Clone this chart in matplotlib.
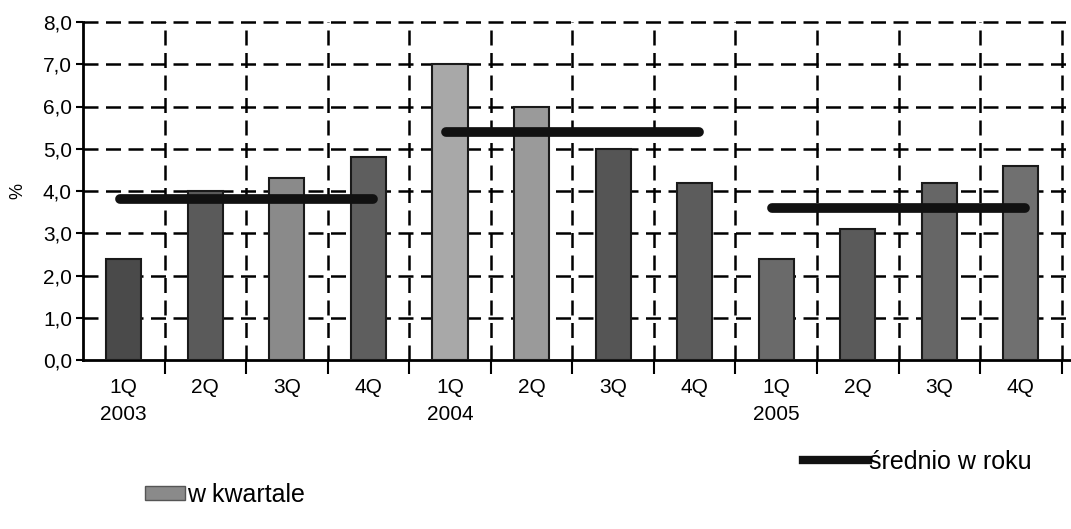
import numpy as np
import matplotlib.pyplot as plt
from matplotlib.patches import Patch
from matplotlib.lines import Line2D

plt.rcParams['font.family'] = ['Liberation Sans', 'DejaVu Sans']

quarters = ['1Q\n2003', '2Q', '3Q', '4Q', '1Q\n2004', '2Q', '3Q', '4Q', '1Q\n2005', '2Q', '3Q', '4Q']
quarterly = [2.4, 4.0, 4.3, 4.8, 7.0, 6.0, 5.0, 4.2, 2.4, 3.1, 4.2, 4.6]
years = [2003, 2004, 2005]
yearly_avg = [3.8, 5.4, 3.6]

bar_colors = ['#4a4a4a', '#5a5a5a', '#8a8a8a', '#5e5e5e', '#a8a8a8', '#9a9a9a',
              '#555555', '#5c5c5c', '#6a6a6a', '#5a5a5a', '#666666', '#707070']

fig = plt.figure(figsize=(10.71, 5.29), dpi=100)
ax = fig.add_axes([83 / 1071, 169 / 529, 995 / 1071, 338 / 529])

x = np.arange(len(quarters))
ax.bar(x, quarterly, width=0.43, color=bar_colors, edgecolor='#1a1a1a', linewidth=1.5, zorder=3)

# yearly average drawn from first to last quarter of each year
for i, avg in enumerate(yearly_avg):
    ax.plot([4 * i - 0.05, 4 * i + 3.05], [avg, avg], color='#111111', lw=7,
            solid_capstyle='round', zorder=4)

ax.set_xlim(-0.5, 11.7)
ax.set_ylim(0, 8)

dash = (0, (6, 3))
ax.set_yticks(np.arange(0, 9, 1))
ax.set_yticklabels([f'{v:.1f}'.replace('.', ',') for v in np.arange(0, 9, 1)])
ax.set_xticks(x)
ax.set_xticklabels(quarters, linespacing=1.5)
ax.set_xticks(np.arange(0.5, 12, 1), minor=True)

ax.tick_params(axis='x', which='major', length=0, pad=13, labelsize=15)
ax.tick_params(axis='x', which='minor', length=10, width=1.5, direction='out')
ax.tick_params(axis='y', length=5, width=1.5, labelsize=15, pad=3)

for v in range(1, 9):
    ax.axhline(v, color='black', lw=1.8, linestyle=dash, zorder=1, clip_on=False)
for b in np.arange(0.5, 12, 1):
    ax.axvline(b, color='black', lw=1.8, linestyle=dash, zorder=1)

for s in ['top', 'right']:
    ax.spines[s].set_visible(False)
ax.spines['left'].set_linewidth(2)
ax.spines['bottom'].set_linewidth(2)

ax.set_ylabel('%', fontsize=13, labelpad=12)

fig.legend(handles=[Patch(facecolor='#8a8a8a', edgecolor='#555555', label='w kwartale')],
           loc='center left', bbox_to_anchor=(122 / 1071, 1 - 495 / 529), frameon=False,
           fontsize=18, handlelength=1.6, handleheight=0.5, handletextpad=0.1)
fig.legend(handles=[Line2D([0], [0], color='#111111', lw=6, label='średnio w roku')],
           loc='center left', bbox_to_anchor=(780 / 1071, 1 - 462 / 529), frameon=False,
           fontsize=18, handlelength=2.6, handletextpad=0.05)

fig.savefig('out.png', dpi=100)
